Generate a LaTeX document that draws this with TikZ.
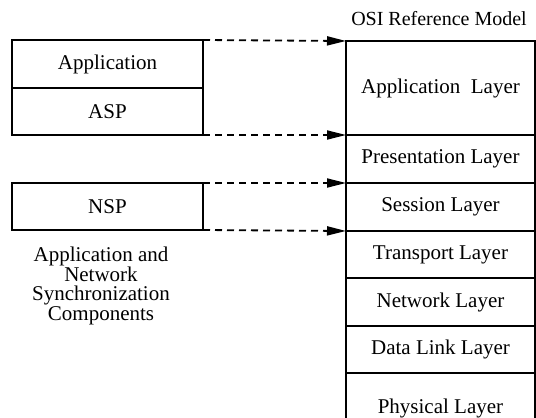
\documentclass[tikz,border=0pt]{standalone}
\usepackage{fontspec}
\setmainfont{Liberation Serif}
\usetikzlibrary{arrows.meta}
\begin{document}
\begin{tikzpicture}[x=1pt,y=-1pt,
  box/.style={draw,line width=1.8pt,inner sep=0pt,outer sep=0pt,minimum width=191pt,font=\fontsize{21}{25}\selectfont},
  layer/.style={draw,line width=1.8pt,inner sep=0pt,outer sep=0pt,minimum width=189pt,font=\fontsize{21}{25}\selectfont},
  link/.style={line width=1.8pt,dash pattern=on 7pt off 5pt,-{Triangle[length=19pt,width=9pt]}},
  lbl/.style={font=\fontsize{21}{19.5}\selectfont,align=center,inner sep=0pt}]
\clip (0,0) rectangle (536,418);
\fill[white] (0,0) rectangle (536,418);
% left components
\node[box,minimum height=48pt] (app) at (107.5,64) {Application};
\node[box,minimum height=47pt] (asp) at (107.5,111.5) {ASP};
\node[box,minimum height=47pt] (nsp) at (107.5,206.5) {NSP};
% OSI stack
\node[lbl,font=\fontsize{20}{24}\selectfont] (title) at (439,19) {OSI Reference Model};
\node[layer,minimum height=94pt] (l7) at (440.5,88) {Application\ \ Layer};
\node[layer,minimum height=48pt] (l6) at (440.5,159) {Presentation Layer};
\node[layer,minimum height=48pt] (l5) at (440.5,207) {Session Layer};
\node[layer,minimum height=47pt] (l4) at (440.5,254.5) {Transport Layer};
\node[layer,minimum height=48pt] (l3) at (440.5,302) {Network Layer};
\node[layer,minimum height=47pt] (l2) at (440.5,349.5) {Data Link Layer};
\node[layer,minimum height=70pt] (l1) at (440.5,408) {Physical Layer};
% caption
\node[lbl] (cap) at (101,286) {Application and\\Network\\Synchronization\\Components};
% connectors
\draw[link] (app.north east) -- (l7.north west);
\draw[link] (asp.south east) -- (l6.north west);
\draw[link] (nsp.north east) -- (l5.north west);
\draw[link] (nsp.south east) -- (l4.north west);
\end{tikzpicture}
\end{document}
